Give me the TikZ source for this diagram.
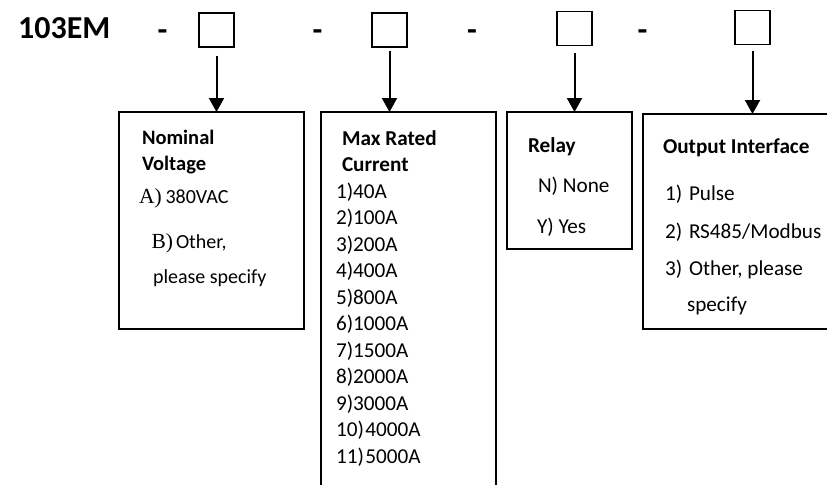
\documentclass[tikz,border=0pt]{standalone}
\usepackage{fontspec}
\setmainfont{Carlito}
\newfontfamily\seriffont{Liberation Serif}
\usetikzlibrary{arrows.meta}
\begin{document}
\begin{tikzpicture}[x=1pt,y=-1pt,
  txt/.style={inner sep=0pt,outer sep=0pt,anchor=base west,font=\fontsize{21.2}{25}\selectfont},
  hd/.style={txt,font=\fontsize{21.2}{25}\selectfont\bfseries},
  txta/.style={txt,font=\fontsize{20}{24}\selectfont},
  hda/.style={txt,font=\fontsize{20.5}{24}\selectfont\bfseries},
  sq/.style={draw,line width=1.3pt,minimum width=35pt,minimum height=34pt,inner sep=0pt},
  dashtxt/.style={inner sep=0pt,anchor=base,font=\fontsize{32}{36}\selectfont\bfseries},
  boxn/.style={inner sep=0pt,outer sep=0pt,anchor=north west},
  arr/.style={line width=2pt,-{Triangle[width=15pt,length=14pt]}}]
\useasboundingbox (0,0) rectangle (827,485);
% header
\node[inner sep=0pt,anchor=base west,font=\fontsize{32}{36}\selectfont\bfseries] (code) at (18,38) {103EM};
\node[dashtxt] (d1) at (162.5,40) {-};
\node[dashtxt] (d2) at (317.5,40) {-};
\node[dashtxt] (d3) at (472,40) {-};
\node[dashtxt] (d4) at (642.5,40) {-};
\node[sq] (sq1) at (216.5,30) {};
\node[sq] (sq2) at (389.5,30) {};
\node[sq] (sq3) at (574.5,28.5) {};
\node[sq] (sq4) at (752.5,27.5) {};
% boxes
\node[boxn,draw,line width=1.8pt,minimum width=185pt,minimum height=217pt] (box1) at (119,112) {};
\node[boxn,minimum width=175pt,minimum height=373pt] (box2) at (321,112) {};
\draw[line width=1.8pt] (box2.south west) -- (box2.north west) -- (box2.north east) -- (box2.south east);
\node[boxn,draw,line width=1.3pt,minimum width=125pt,minimum height=137pt] (box3) at (507,112) {};
\node[boxn,minimum width=184pt,minimum height=215pt] (box4) at (643,114) {};
\draw[line width=1.8pt] (box4.north east) -- (box4.north west) -- (box4.south west) -- (box4.south east);
% arrows
\draw[arr,shorten <=8pt] (sq1.south) -- (sq1.south |- box1.north);
\draw[arr,shorten <=3pt] (sq2.south) -- (sq2.south |- box2.north);
\draw[arr,shorten <=7pt] (sq3.south) -- (sq3.south |- box3.north);
\draw[arr,shorten <=6pt] (sq4.south) -- (sq4.south |- box4.north);
% box 1 text
\node[hda] (v1) at (142,144) {Nominal};
\node[hda] (v2) at (142,170.5) {Voltage};
\node[txta] (v3) at (139,203) {\makebox[26.5pt][l]{\seriffont\fontsize{21.5}{24}\selectfont A)}380VAC};
\node[txta] (v4) at (151.5,248) {\makebox[24.5pt][l]{\seriffont\fontsize{21.5}{24}\selectfont B)}Other,};
\node[txta] (v5) at (153,283) {please specify};
% box 2 text
\node[hd] (c1) at (342,145) {Max Rated};
\node[hd] (c2) at (342,171) {Current};
\foreach \t [count=\i] in {1)40A,2)100A,3)200A,4)400A,5)800A,6)1000A,7)1500A,8)2000A,9)3000A,10)\kern1.5pt 4000A,11)\kern1.5pt 5000A}
  \node[txt] (ci\i) at (336,{198+26.5*(\i-1)}) {\t};
% box 3 text
\node[hd] (r1) at (528,152) {Relay};
\node[txt] (r2) at (538,192) {N) None};
\node[txt] (r3) at (537,233) {Y) Yes};
% box 4 text
\node[hd] (o1) at (663,153) {Output Interface};
\node[txt] (o2) at (665,200) {\makebox[24pt][l]{1)}Pulse};
\node[txt] (o3) at (665,238) {\makebox[24pt][l]{2)}RS485/Modbus};
\node[txt] (o4) at (665,275) {\makebox[24pt][l]{3)}Other, please};
\node[txt] (o5) at (687,311) {specify};
\end{tikzpicture}
\end{document}
